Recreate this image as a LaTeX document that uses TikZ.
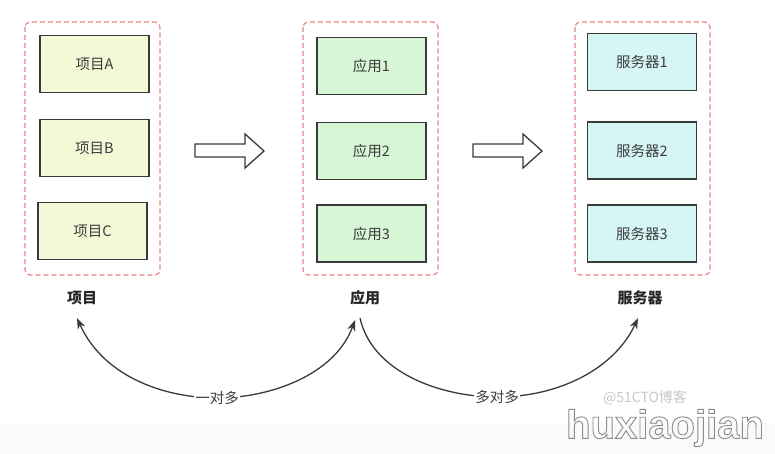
\documentclass[tikz,border=0pt]{standalone}
\usepackage{fontspec}
\setmainfont{Noto Sans CJK SC}
\newfontfamily\wmfont{Liberation Sans}
\usetikzlibrary{arrows.meta}
\definecolor{dashred}{HTML}{E98585}
\definecolor{boxline}{HTML}{3A3A3A}
\definecolor{fillA}{HTML}{F5F8D6}
\definecolor{fillB}{HTML}{D6F6D6}
\definecolor{fillC}{HTML}{D6F5F5}
\definecolor{txt}{HTML}{3C3C3C}
\definecolor{band}{HTML}{FAFAFA}
\tikzset{
  group/.style={draw=dashred, line width=1.2pt, dash pattern=on 5pt off 3pt, rounded corners=5pt},
  item/.style={draw=boxline, line width=1.5pt, minimum width=109pt, minimum height=57pt, inner sep=0pt, font=\fontsize{14.5}{16}\selectfont, text=txt},
  grplabel/.style={font=\fontsize{15}{17}\selectfont\bfseries, text=black!85},
  blockarrow/.style={draw=boxline, line width=1.3pt, fill=white, line join=miter},
  rel/.style={draw=boxline, line width=1.3pt},
  tip/.style={-{Stealth[length=11pt,width=8pt]}},
  rellabel/.style={fill=white, inner sep=1pt, font=\fontsize{14.5}{16}\selectfont, text=txt},
}
\begin{document}
\begin{tikzpicture}[x=1pt,y=-1pt]
\useasboundingbox (0,0) rectangle (775,454);
\fill[white] (0,0) rectangle (775,454);
\fill[band] (0,423) rectangle (775,454);

% groups
\draw[group] (25,22) rectangle (160,275);
\draw[group] (303,22) rectangle (438,275);
\draw[group] (575,22) rectangle (710,275);

% items
\node[item, fill=fillA] (a1) at (94.5,64) {项目A};
\node[item, fill=fillA] (a2) at (94.5,148) {项目B};
\node[item, fill=fillA] (a3) at (92.5,231) {项目C};
\node[item, fill=fillB] (b1) at (371.5,66) {应用1};
\node[item, fill=fillB] (b2) at (371.5,151) {应用2};
\node[item, fill=fillB] (b3) at (371.5,233.5) {应用3};
\node[item, fill=fillC] (c1) at (642,62) {服务器1};
\node[item, fill=fillC] (c2) at (642,150.5) {服务器2};
\node[item, fill=fillC] (c3) at (642,233.5) {服务器3};

% group labels
\node[grplabel] (la) at (82,298) {项目};
\node[grplabel] (lb) at (365,298) {应用};
\node[grplabel] (lc) at (640,298) {服务器};

% block arrows
\draw[blockarrow] (195,144) -- (245,144) -- (245,134) -- (264,151) -- (245,168) -- (245,157) -- (195,157) -- cycle;
\draw[blockarrow] (473,144) -- (523,144) -- (523,134) -- (542,151) -- (523,168) -- (523,157) -- (473,157) -- cycle;

% relation curves
\coordinate (pa) at (77,318);
\coordinate (pb) at (355,320);
\coordinate (pb2) at (360,318);
\coordinate (pc) at (638,318);
\coordinate (m1) at (217,398);
\coordinate (m2) at (497,397);
\draw[rel, tip] (m1) .. controls (170,398) and (105,380) .. (pa);
\draw[rel, tip] (m1) .. controls (270,398) and (335,375) .. (pb);
\draw[rel] (pb2) .. controls (372,372) and (440,397) .. (m2);
\draw[rel, tip] (m2) .. controls (560,397) and (615,368) .. (pc);
\node[rellabel] (r1) at (m1) {一对多};
\node[rellabel] (r2) at (m2) {多对多};

% watermark
\node[text=black!22, font=\fontsize{14}{16}\selectfont] (wm1) at (645,398) {@51CTO博客};
\node[text=black!45, font=\wmfont\fontsize{40}{44}\selectfont\bfseries] (wm2) at (665,428) {\special{pdf:literal direct 1 Tr 0.9 w}huxiaojian\special{pdf:literal direct 0 Tr}};
\end{tikzpicture}
\end{document}
